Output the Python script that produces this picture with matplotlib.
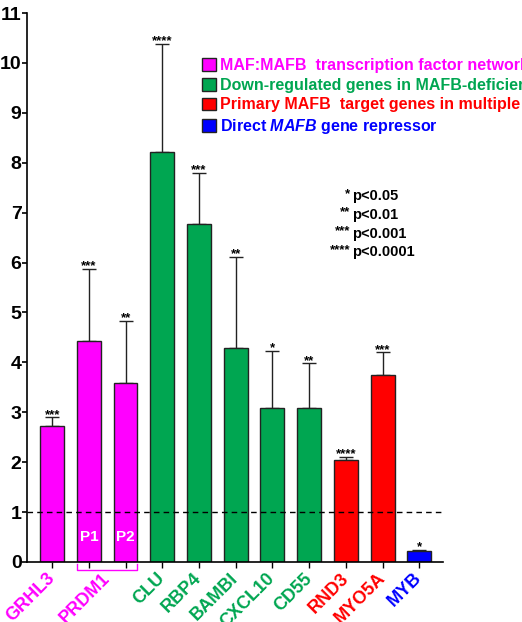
import matplotlib
matplotlib.use("Agg")
import matplotlib.pyplot as plt
import matplotlib.transforms as mtransforms
from matplotlib.patches import Patch
import numpy as np

plt.rcParams['font.family'] = ['Liberation Sans', 'DejaVu Sans']
plt.rcParams['mathtext.fontset'] = 'custom'
plt.rcParams['mathtext.bfit'] = 'Liberation Sans:italic:bold'

# data
genes = ['GRHL3', 'PRDM1', 'PRDM1', 'CLU', 'RBP4', 'BAMBI', 'CXCL10', 'CD55', 'RND3', 'MYO5A', 'MYB']
label_names = ['GRHL3', 'PRDM1', 'CLU', 'RBP4', 'BAMBI', 'CXCL10', 'CD55', 'RND3', 'MYO5A', 'MYB']
label_groups = [0, 0, 1, 1, 1, 1, 1, 2, 2, 3]
values = [2.73, 4.43, 3.58, 8.22, 6.77, 4.29, 3.09, 3.09, 2.04, 3.74, 0.22]
errors = [0.17, 1.44, 1.25, 2.17, 1.03, 1.83, 1.14, 0.89, 0.07, 0.46, 0.03]
stars = ['***', '***', '**', '****', '***', '**', '*', '**', '****', '***', '*']
groups = [0, 0, 0, 1, 1, 1, 1, 1, 2, 2, 3]

group_colors = ['#FF00FF', '#00A651', '#FF0000', '#0000FF']
group_labels = ['MAF:MAFB  transcription factor network',
                'Down-regulated genes in MAFB-deficient macrophages',
                'Primary MAFB  target genes in multiple myeloma',
                r'Direct $\mathbfit{MAFB}$ gene repressor']
pval_stars = ['*', '**', '***', '****']
pval_text = ['p<0.05', 'p<0.01', 'p<0.001', 'p<0.0001']

fig = plt.figure(figsize=(5.22, 6.22), dpi=100)
ax = fig.add_axes([0.052, 0.0965, 0.797, 0.8825])

x = np.arange(len(values))
colors = [group_colors[g] for g in groups]
bar_width = 0.65

ax.bar(x, values, width=bar_width, color=colors, edgecolor='#222222', linewidth=1.0, zorder=2)
ax.errorbar(x, values, yerr=[np.zeros(len(errors)), errors], fmt='none',
            ecolor='#222222', elinewidth=1.0, capsize=5, capthick=1.0, zorder=1)

# significance stars
for xi, v, e, s in zip(x, values, errors, stars):
    ax.text(xi, v + e - 0.07, s, ha='center', va='bottom', fontsize=9.5, fontweight='bold')

# dashed line at 1
ax.axhline(1, color='black', linestyle='--', linewidth=1.0, dashes=(4, 3), zorder=3)

# P1 / P2 labels
ax.text(1, 0.5, 'P1', color='white', ha='center', va='center', fontsize=11, fontweight='bold')
ax.text(2, 0.5, 'P2', color='white', ha='center', va='center', fontsize=11, fontweight='bold')

# bracket under PRDM1
trans = mtransforms.blended_transform_factory(ax.transData, ax.transAxes)
bx0 = 1 - bar_width / 2
bx1 = 2 + bar_width / 2
ax.plot([bx0, bx0, bx1, bx1], [-0.004, -0.015, -0.015, -0.004], color='#FF00FF',
        linewidth=1.0, transform=trans, clip_on=False)

ax.set_xlim(-0.68, 10.65)
ax.set_ylim(0, 11)
ax.set_yticks(range(0, 12))
ax.tick_params(axis='y', labelsize=14, width=1.2, length=3.5, pad=0.5)
for lbl in ax.get_yticklabels():
    lbl.set_fontweight('bold')

# ticks at every bar, labels on minor ticks (PRDM1 centred under its bracket)
ax.xaxis.remove_overlapping_locs = False
ax.set_xticks(x)
ax.set_xticklabels([])
ax.tick_params(axis='x', which='major', width=1.0, length=4)
label_pos = [0, 1.5] + list(range(3, 11))
ax.set_xticks(label_pos, minor=True)
ax.set_xticklabels(label_names, minor=True, rotation=45, ha='right', va='center',
                   rotation_mode='anchor', fontsize=13, fontweight='bold')
ax.tick_params(axis='x', which='minor', length=0, pad=10)
for lbl, g in zip(ax.get_xticklabels(minor=True), label_groups):
    lbl.set_color(group_colors[g])

ax.spines['top'].set_visible(False)
ax.spines['right'].set_visible(False)
ax.spines['left'].set_linewidth(1.2)
ax.spines['bottom'].set_linewidth(1.2)

# group legend
handles = [Patch(facecolor=c, edgecolor='#222222', linewidth=1.0) for c in group_colors]
leg = ax.legend(handles, group_labels, loc='upper left', bbox_to_anchor=(0.405, 0.93),
                frameon=False, handlelength=0.85, handleheight=0.85, handletextpad=0.3,
                labelspacing=0.3, borderaxespad=0, prop={'weight': 'bold', 'size': 11.5})
for t, c in zip(leg.get_texts(), group_colors):
    t.set_color(c)

# p-value key
for i, (s, t) in enumerate(zip(pval_stars, pval_text)):
    yy = 7.33 - i * 0.375
    ax.text(8.12, yy + 0.05, s, ha='right', va='center', fontsize=9.5, fontweight='bold')
    ax.text(8.17, yy, t, ha='left', va='center', fontsize=10.5, fontweight='bold')

fig.savefig('out.png', dpi=100)
